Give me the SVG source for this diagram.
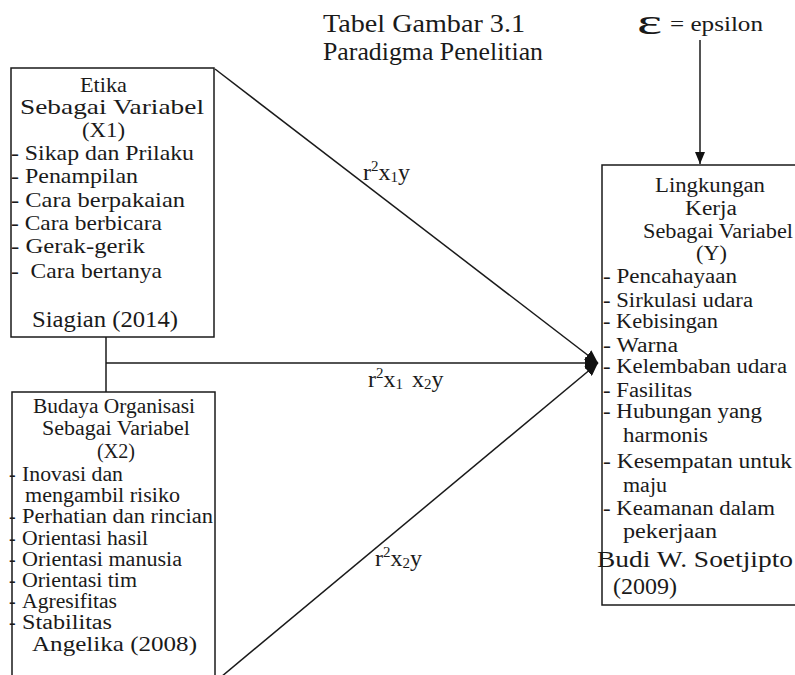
<svg xmlns="http://www.w3.org/2000/svg" width="795" height="675" viewBox="0 0 795 675">
<style>
  text { font-family: "Liberation Serif", "Times New Roman", serif; fill: #1a1a1a; }
  .t { font-size: 21px; }
  .s { font-size: 20px; }
  .big { font-size: 23px; }
  .ttl { font-size: 25px; }
  .lbl { font-size: 24px; }
  .sm { font-size: 15px; }
  .box { fill: #ffffff; stroke: #1a1a1a; stroke-width: 1.5; }
  .ln { fill: none; stroke: #1a1a1a; stroke-width: 1.5; }
</style>
<defs>
  <marker id="ah" markerUnits="userSpaceOnUse" markerWidth="14" markerHeight="12" refX="13" refY="6" orient="auto">
    <path d="M0,0 L13,6 L0,12 Z" fill="#111"/>
  </marker>
  <marker id="ah2" markerUnits="userSpaceOnUse" markerWidth="12" markerHeight="10" refX="12" refY="5" orient="auto">
    <path d="M0,0 L12,5 L0,10 Z" fill="#111"/>
  </marker>
</defs>
<rect x="0" y="0" width="795" height="675" fill="#ffffff"/>

<g id="title">
  <text class="ttl" x="323" y="32" textLength="202" lengthAdjust="spacingAndGlyphs">Tabel Gambar 3.1</text>
  <text class="ttl" x="323" y="60" textLength="220" lengthAdjust="spacingAndGlyphs">Paradigma Penelitian</text>
</g>

<g id="epsilon">
  <text x="637" y="34" style="font-size:36px" textLength="25" lengthAdjust="spacingAndGlyphs">ε</text>
  <text x="670" y="31" style="font-size:21px" textLength="93" lengthAdjust="spacingAndGlyphs">= epsilon</text>
</g>

<g id="connectors">
  <line class="ln" x1="700" y1="40" x2="700" y2="164" marker-end="url(#ah2)"/>
  <line class="ln" x1="106" y1="337" x2="106" y2="392"/>
  <line class="ln" x1="106" y1="363" x2="598" y2="363" marker-end="url(#ah)"/>
  <line class="ln" x1="215" y1="69" x2="598" y2="363" marker-end="url(#ah)"/>
  <line class="ln" x1="221" y1="677" x2="598" y2="363" marker-end="url(#ah)"/>
</g>

<g id="labels">
  <text class="lbl" x="363" y="180">r<tspan class="sm" dy="-9">2</tspan><tspan dy="9">x</tspan><tspan class="sm" dy="2">1</tspan><tspan dy="-2">y</tspan></text>
  <text class="lbl" x="368" y="387">r<tspan class="sm" dy="-9">2</tspan><tspan dy="9">x</tspan><tspan class="sm" dy="2">1</tspan><tspan dy="-2" dx="3"> x</tspan><tspan class="sm" dy="2">2</tspan><tspan dy="-2">y</tspan></text>
  <text class="lbl" x="375" y="566">r<tspan class="sm" dy="-9">2</tspan><tspan dy="9">x</tspan><tspan class="sm" dy="2">2</tspan><tspan dy="-2">y</tspan></text>
</g>

<g id="node-x1">
  <rect class="box" x="11" y="68" width="203" height="269"/>
  <text class="t" x="80" y="92" textLength="47" lengthAdjust="spacingAndGlyphs">Etika</text>
  <text class="t" x="20" y="114" textLength="184" lengthAdjust="spacingAndGlyphs">Sebagai Variabel</text>
  <text class="t" x="82" y="137" textLength="43" lengthAdjust="spacingAndGlyphs">(X1)</text>
  <text class="t" x="11" y="160" textLength="183" lengthAdjust="spacingAndGlyphs">- Sikap dan Prilaku</text>
  <text class="t" x="11" y="183" textLength="127" lengthAdjust="spacingAndGlyphs">- Penampilan</text>
  <text class="t" x="11" y="207" textLength="174" lengthAdjust="spacingAndGlyphs">- Cara berpakaian</text>
  <text class="t" x="11" y="230" textLength="151" lengthAdjust="spacingAndGlyphs">- Cara berbicara</text>
  <text class="t" x="11" y="253" textLength="134" lengthAdjust="spacingAndGlyphs">- Gerak-gerik</text>
  <text class="t" x="11" y="278" textLength="151" lengthAdjust="spacingAndGlyphs" xml:space="preserve">-  Cara bertanya</text>
  <text class="big" x="32" y="327" textLength="146" lengthAdjust="spacingAndGlyphs">Siagian (2014)</text>
</g>

<g id="node-x2">
  <rect class="box" x="12" y="392" width="203" height="300"/>
  <text class="s" x="33" y="413" textLength="162" lengthAdjust="spacingAndGlyphs">Budaya Organisasi</text>
  <text class="s" x="42" y="435" textLength="148" lengthAdjust="spacingAndGlyphs">Sebagai Variabel</text>
  <text class="s" x="97" y="458" textLength="38" lengthAdjust="spacingAndGlyphs">(X2)</text>
  <text class="s" x="9" y="481">-</text>
  <text class="s" x="22" y="481" textLength="101" lengthAdjust="spacingAndGlyphs">Inovasi dan</text>
  <text class="s" x="25" y="502" textLength="155" lengthAdjust="spacingAndGlyphs">mengambil risiko</text>
  <text class="s" x="9" y="523">-</text>
  <text class="s" x="22" y="523" textLength="191" lengthAdjust="spacingAndGlyphs">Perhatian dan rincian</text>
  <text class="s" x="9" y="545">-</text>
  <text class="s" x="22" y="545" textLength="126" lengthAdjust="spacingAndGlyphs">Orientasi hasil</text>
  <text class="s" x="9" y="566">-</text>
  <text class="s" x="22" y="566" textLength="160" lengthAdjust="spacingAndGlyphs">Orientasi manusia</text>
  <text class="s" x="9" y="587">-</text>
  <text class="s" x="22" y="587" textLength="115" lengthAdjust="spacingAndGlyphs">Orientasi tim</text>
  <text class="s" x="9" y="608">-</text>
  <text class="s" x="22" y="608" textLength="95" lengthAdjust="spacingAndGlyphs">Agresifitas</text>
  <text class="s" x="9" y="629">-</text>
  <text class="s" x="22" y="629" textLength="90" lengthAdjust="spacingAndGlyphs">Stabilitas</text>
  <text x="32" y="651" style="font-size:22px" textLength="165" lengthAdjust="spacingAndGlyphs">Angelika (2008)</text>
</g>

<g id="node-y">
  <rect class="box" x="602" y="165" width="200" height="440"/>
  <text class="s" x="655" y="192" textLength="110" lengthAdjust="spacingAndGlyphs">Lingkungan</text>
  <text class="s" x="685" y="215" textLength="52" lengthAdjust="spacingAndGlyphs">Kerja</text>
  <text class="s" x="643" y="238" textLength="150" lengthAdjust="spacingAndGlyphs">Sebagai Variabel</text>
  <text class="s" x="696" y="260" textLength="31" lengthAdjust="spacingAndGlyphs">(Y)</text>
  <text class="s" x="603" y="283" textLength="134" lengthAdjust="spacingAndGlyphs">- Pencahayaan</text>
  <text class="s" x="603" y="307" textLength="150" lengthAdjust="spacingAndGlyphs">- Sirkulasi udara</text>
  <text class="s" x="603" y="328" textLength="115" lengthAdjust="spacingAndGlyphs">- Kebisingan</text>
  <text class="s" x="603" y="352" textLength="75" lengthAdjust="spacingAndGlyphs">- Warna</text>
  <text class="s" x="603" y="373" textLength="184" lengthAdjust="spacingAndGlyphs">- Kelembaban udara</text>
  <text class="s" x="603" y="397" textLength="89" lengthAdjust="spacingAndGlyphs">- Fasilitas</text>
  <text class="s" x="603" y="418" textLength="159" lengthAdjust="spacingAndGlyphs">- Hubungan yang</text>
  <text class="s" x="623" y="442" textLength="85" lengthAdjust="spacingAndGlyphs">harmonis</text>
  <text class="s" x="603" y="468" textLength="189" lengthAdjust="spacingAndGlyphs">- Kesempatan untuk</text>
  <text class="s" x="623" y="492" textLength="44" lengthAdjust="spacingAndGlyphs">maju</text>
  <text class="s" x="603" y="515" textLength="172" lengthAdjust="spacingAndGlyphs">- Keamanan dalam</text>
  <text class="s" x="623" y="538" textLength="94" lengthAdjust="spacingAndGlyphs">pekerjaan</text>
  <text class="big" x="597" y="567" textLength="196" lengthAdjust="spacingAndGlyphs">Budi W. Soetjipto</text>
  <text class="big" x="613" y="594" textLength="64" lengthAdjust="spacingAndGlyphs">(2009)</text>
</g>
</svg>
